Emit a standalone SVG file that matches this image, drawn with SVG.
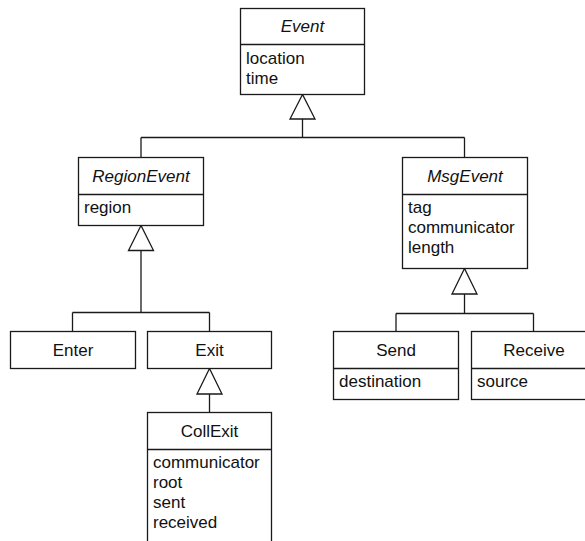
<svg xmlns="http://www.w3.org/2000/svg" width="585" height="541" viewBox="0 0 585 541">
<style>
  .box, line, polygon { fill: #fff; stroke: #1a1a1a; stroke-width: 1.3; }
  line { fill: none; }
  text { font-family: "Liberation Sans", Arial, sans-serif; font-size: 17px; fill: #111; }
  .t { text-anchor: middle; }
  .i { font-style: italic; }
</style>
<rect x="0" y="0" width="585" height="541" fill="#fff"/>
<g id="connectors">
  <line x1="302.5" y1="118" x2="302.5" y2="137.5"/>
  <line x1="141" y1="137.5" x2="464.5" y2="137.5"/>
  <line x1="141" y1="137.5" x2="141" y2="157"/>
  <line x1="464.5" y1="137.5" x2="464.5" y2="157"/>
  <polygon points="302.5,94.5 290,119 315,119"/>
  <line x1="141" y1="250" x2="141" y2="312.5"/>
  <line x1="72.5" y1="312.5" x2="209.5" y2="312.5"/>
  <line x1="72.5" y1="312.5" x2="72.5" y2="331"/>
  <line x1="209.5" y1="312.5" x2="209.5" y2="331"/>
  <polygon points="141,225.5 128.5,250.5 153.5,250.5"/>
  <line x1="464.5" y1="294" x2="464.5" y2="313.5"/>
  <line x1="396" y1="313.5" x2="533.5" y2="313.5"/>
  <line x1="396" y1="313.5" x2="396" y2="331"/>
  <line x1="533.5" y1="313.5" x2="533.5" y2="331"/>
  <polygon points="464.5,268.5 452,294 477,294"/>
  <line x1="209.5" y1="394" x2="209.5" y2="412"/>
  <polygon points="209.5,368.5 197,394 222,394"/>
</g>
<g id="Event">
  <rect class="box" x="240.5" y="8.5" width="124" height="86"/>
  <line x1="240.5" y1="44.5" x2="364.5" y2="44.5"/>
  <text class="t i" x="302.5" y="32">Event</text>
  <text x="246" y="63.5">location</text>
  <text x="246" y="83.5">time</text>
</g>
<g id="RegionEvent">
  <rect class="box" x="78.5" y="157.5" width="125" height="68"/>
  <line x1="78.5" y1="194.5" x2="203.5" y2="194.5"/>
  <text class="t i" x="141" y="182">RegionEvent</text>
  <text x="84" y="213">region</text>
</g>
<g id="MsgEvent">
  <rect class="box" x="402.5" y="157.5" width="125" height="111"/>
  <line x1="402.5" y1="194.5" x2="527.5" y2="194.5"/>
  <text class="t i" x="465" y="182">MsgEvent</text>
  <text x="408" y="213">tag</text>
  <text x="408" y="233">communicator</text>
  <text x="408" y="253">length</text>
</g>
<g id="Enter">
  <rect class="box" x="10.5" y="331.5" width="125" height="37"/>
  <text class="t" x="73" y="356">Enter</text>
</g>
<g id="Exit">
  <rect class="box" x="147.5" y="331.5" width="124" height="37"/>
  <text class="t" x="209.5" y="356">Exit</text>
</g>
<g id="CollExit">
  <rect class="box" x="147.5" y="412.5" width="124" height="140"/>
  <line x1="147.5" y1="449.5" x2="271.5" y2="449.5"/>
  <text class="t" x="209.5" y="437">CollExit</text>
  <text x="153" y="467.5">communicator</text>
  <text x="153" y="487.5">root</text>
  <text x="153" y="507.5">sent</text>
  <text x="153" y="527.5">received</text>
</g>
<g id="Send">
  <rect class="box" x="333.5" y="331.5" width="125" height="68"/>
  <line x1="333.5" y1="368.5" x2="458.5" y2="368.5"/>
  <text class="t" x="396" y="356">Send</text>
  <text x="339" y="387">destination</text>
</g>
<g id="Receive">
  <rect class="box" x="471.5" y="331.5" width="125" height="68"/>
  <line x1="471.5" y1="368.5" x2="596.5" y2="368.5"/>
  <text class="t" x="534" y="356">Receive</text>
  <text x="477" y="387">source</text>
</g>
</svg>
